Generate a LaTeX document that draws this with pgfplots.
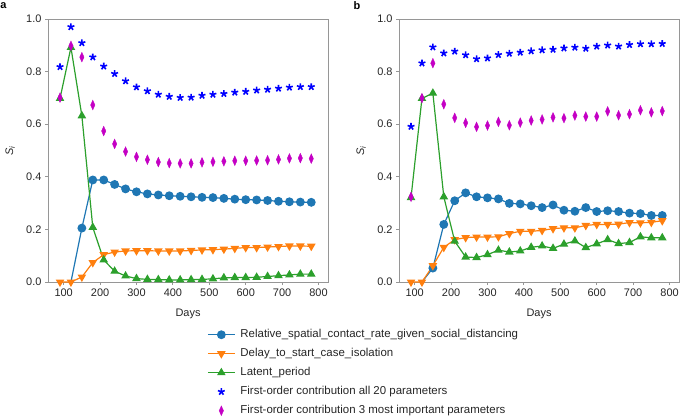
\documentclass[border=0pt]{standalone}
\usepackage{pgfplots}
\usepackage{pgfplotstable}
\pgfplotsset{compat=1.18}
\usepackage{fontspec}
\setmainfont{Liberation Sans}
\definecolor{cblue}{HTML}{1F77B4}
\definecolor{corange}{HTML}{FF7F0E}
\definecolor{cgreen}{HTML}{2CA02C}
\definecolor{cstar}{RGB}{0,0,255}
\definecolor{cdiam}{RGB}{196,0,196}
\definecolor{axgray}{RGB}{150,150,150}

\pgfplotstableread{
x rel delay latent all top
90 nan 0 0.698 0.818 0.701
120 0 0 0.892 0.970 0.898
150 0.205 0.019 0.632 0.909 0.855
180 0.388 0.074 0.208 0.855 0.673
210 0.388 0.104 0.084 0.820 0.574
240 0.371 0.114 0.041 0.792 0.525
270 0.354 0.118 0.023 0.764 0.496
300 0.343 0.119 0.013 0.741 0.476
330 0.335 0.119 0.010 0.726 0.465
360 0.331 0.118 0.009 0.713 0.456
390 0.328 0.118 0.008 0.705 0.452
420 0.326 0.118 0.008 0.701 0.451
450 0.324 0.120 0.009 0.702 0.451
480 0.322 0.122 0.010 0.709 0.455
510 0.321 0.123 0.012 0.713 0.457
540 0.318 0.125 0.016 0.716 0.459
570 0.315 0.128 0.017 0.721 0.461
600 0.313 0.131 0.017 0.724 0.461
630 0.312 0.131 0.018 0.729 0.462
660 0.310 0.133 0.021 0.732 0.463
690 0.307 0.135 0.024 0.736 0.466
720 0.305 0.137 0.027 0.740 0.470
750 0.304 0.137 0.030 0.742 0.471
780 0.303 0.136 0.030 0.742 0.469
}\dataA

\pgfplotstableread{
x rel delay latent all top
90 nan 0 0.321 0.591 0.324
120 0 0 0.698 0.832 0.699
150 0.053 0.062 0.718 0.893 0.832
180 0.219 0.132 0.324 0.870 0.676
210 0.309 0.161 0.155 0.877 0.624
240 0.339 0.169 0.095 0.863 0.605
270 0.324 0.171 0.093 0.848 0.590
300 0.320 0.171 0.104 0.851 0.595
330 0.316 0.172 0.121 0.864 0.609
360 0.299 0.184 0.114 0.869 0.596
390 0.297 0.193 0.118 0.873 0.606
420 0.290 0.193 0.132 0.878 0.614
450 0.283 0.196 0.137 0.882 0.618
480 0.293 0.203 0.128 0.884 0.626
510 0.273 0.206 0.144 0.889 0.623
540 0.269 0.206 0.156 0.892 0.633
570 0.283 0.215 0.131 0.888 0.629
600 0.268 0.219 0.145 0.896 0.629
630 0.271 0.219 0.161 0.900 0.649
660 0.268 0.220 0.146 0.896 0.634
690 0.262 0.226 0.150 0.902 0.638
720 0.260 0.225 0.172 0.905 0.653
750 0.253 0.227 0.168 0.905 0.645
780 0.253 0.233 0.168 0.906 0.650
}\dataB

\pgfplotsset{
  myax/.style={
    scale only axis, width=280bp, height=263bp,
    xmin=57, xmax=826, ymin=0, ymax=1,
    xtick={100,200,300,400,500,600,700,800},
    ytick={0,0.2,0.4,0.6,0.8,1.0},
    yticklabel style={/pgf/number format/.cd, fixed, fixed zerofill, precision=1},
    /pgf/number format/assume math mode=true,
    tick label style={font=\fontsize{11}{13}\selectfont, text=black!85},
    label style={font=\fontsize{11}{13}\selectfont, text=black!85},
    axis line style={draw=axgray, line width=0.9bp},
    tick style={draw=axgray, line width=0.9bp},
    tick align=outside, major tick length=3bp,
    xtick pos=bottom, ytick pos=left,
    unbounded coords=jump,
    xlabel={Days},
    ylabel={\textit{S}\textsubscript{\textit{i}}},
    xlabel style={at={(axis description cs:0.5,-0.12)}, anchor=center},
    ylabel style={at={(axis description cs:-0.135,0.5)}, anchor=center},
    legend image code/.code={\draw[mark repeat=2,mark phase=2,#1] plot coordinates {(0bp,0bp) (13.5bp,0bp) (27bp,0bp)};},
  },
  s1/.style={color=cblue, line width=1.2bp, mark=*, mark size=3.8bp, mark options={solid},
     mark indices={2,...,30}, legend image post style={mark indices={2}}},
  s2/.style={color=corange, line width=1.2bp, mark=triangle*, mark size=3.8bp, mark options={solid, rotate=180}},
  s3/.style={color=cgreen, line width=1.2bp, mark=triangle*, mark size=3.8bp, mark options={solid}},
  s4/.style={color=cstar, only marks, mark=star, mark size=3.6bp, mark options={fill=cstar, line width=1.6bp}},
  s5/.style={color=cdiam, only marks, mark=diamond*, mark size=4.8bp, mark options={xscale=0.6}},
}

\begin{document}
\begin{tikzpicture}[x=1bp,y=1bp]
\path[use as bounding box] (0,0) rectangle (685,-419);
\node[font=\fontsize{11}{13}\selectfont\bfseries] at (3.5,-6) {a};
\node[font=\fontsize{11}{13}\selectfont\bfseries] at (357,-6) {b};

\begin{axis}[myax, at={(48bp,-282bp)}, anchor=south west,
  legend style={at={(0.568,-0.175)}, anchor=north west, draw=none, fill=none,
    inner sep=0pt, font=\fontsize{11.5}{13}\selectfont,
    nodes={inner sep=1bp, text height=8.5bp, text depth=2.5bp, text=black!85},
    row sep=6bp, column sep=4bp},
  legend cell align=left]
\addplot[s1] table[x=x,y=rel] {\dataA};
\addplot[s2] table[x=x,y=delay] {\dataA};
\addplot[s3] table[x=x,y=latent] {\dataA};
\addplot[s4] table[x=x,y=all] {\dataA};
\addplot[s5] table[x=x,y=top] {\dataA};
\legend{Relative\_spatial\_contact\_rate\_given\_social\_distancing,
Delay\_to\_start\_case\_isolation,
Latent\_period,
First-order contribution all 20 parameters,
First-order contribution 3 most important parameters}
\end{axis}

\begin{axis}[myax, at={(399bp,-282bp)}, anchor=south west]
\addplot[s1] table[x=x,y=rel] {\dataB};
\addplot[s2] table[x=x,y=delay] {\dataB};
\addplot[s3] table[x=x,y=latent] {\dataB};
\addplot[s4] table[x=x,y=all] {\dataB};
\addplot[s5] table[x=x,y=top] {\dataB};
\end{axis}
\end{tikzpicture}
\end{document}
